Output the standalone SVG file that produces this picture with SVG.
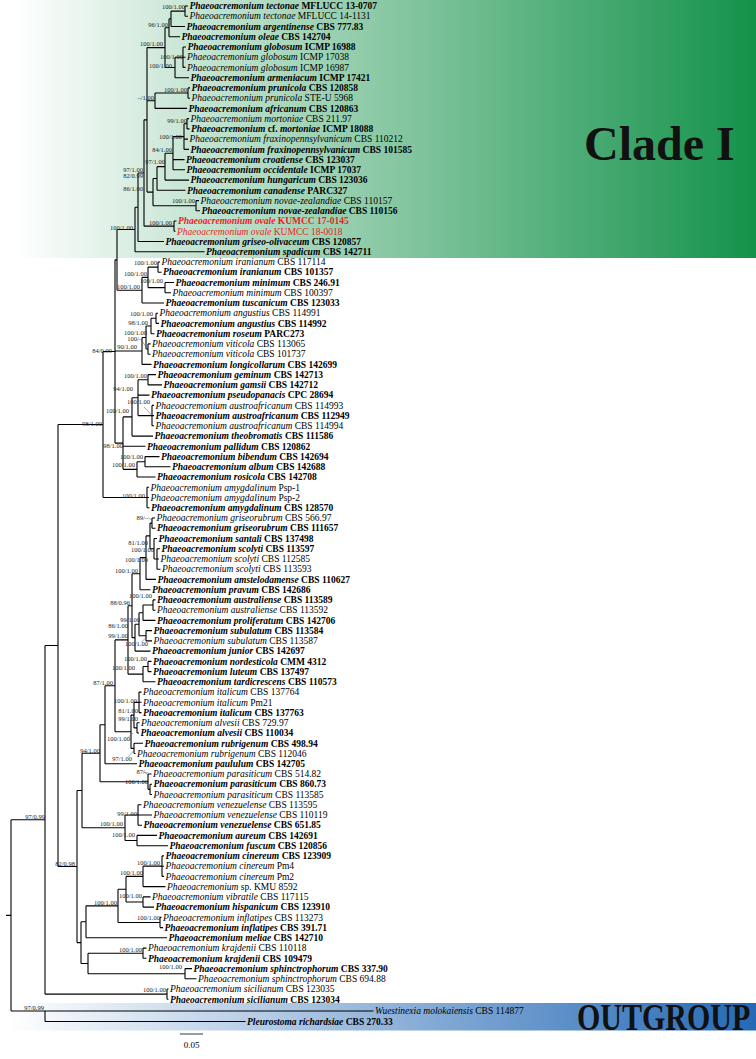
<svg xmlns="http://www.w3.org/2000/svg" width="756" height="1059" viewBox="0 0 756 1059">
<defs>
<linearGradient id="gG" x1="0" x2="1" y1="0" y2="0"><stop offset="0" stop-color="#ffffff"/><stop offset="1" stop-color="#14924a"/></linearGradient>
<linearGradient id="gB" x1="0" x2="1" y1="0" y2="0"><stop offset="0" stop-color="#ffffff"/><stop offset="1" stop-color="#2569b5"/></linearGradient>
<style>
.t{font-family:"Liberation Serif","Times New Roman",serif;font-size:9.5px;fill:#000}
.b{font-weight:700}
.i{font-style:italic}
.r{fill:#ee1c24}
.s{font-family:"Liberation Serif","Times New Roman",serif;font-size:6.5px;fill:#222;text-anchor:end}
.br{fill:none;stroke:#000;stroke-width:1.1}
.ld{fill:none;stroke:#555;stroke-width:0.5}
.big{font-family:"Liberation Serif","Times New Roman",serif;font-weight:700;fill:#111}
</style>
</defs>
<rect x="0" y="0" width="756" height="1059" fill="#fff"/>
<g id="clade-I-band"><rect x="15" y="0" width="741" height="258" fill="url(#gG)"/><text class="big" x="584" y="160" font-size="48">Clade I</text></g>
<g id="outgroup-band"><rect x="8" y="1003" width="748" height="27.5" fill="url(#gB)"/><text class="big" transform="translate(577 1029.5) scale(1 1.25)" x="0" y="0" font-size="30">OUTGROUP</text></g>
<g id="connectors" class="br">
<path d="M185 6V16.2M185 6H188M185 16.2H188"/>
<path d="M171 11.1V26.5M171 11.1H185M171 26.5H185"/>
<path d="M169 18.8V36.7M169 18.8H171M169 36.7H180"/>
<path d="M183 47V67.4M183 47H186M183 57.2H185.5M183 67.4H185.5"/>
<path d="M175 57.2V77.7M175 57.2H183M175 77.7H189"/>
<path d="M165 27.75V67.45M165 27.75H169M165 67.45H175"/>
<path d="M188 87.9V98.2M188 87.9H190M188 98.2H190"/>
<path d="M155 93.05V108.4M155 93.05H188M155 108.4H187"/>
<path d="M187 118.6V128.9M187 118.6H189M187 128.9H189.5"/>
<path d="M184 123.75V149.4M184 123.75H187M184 139.1H188M184 149.4H189"/>
<path d="M173 136.6V169.8M173 136.6H184M173 159.6H184.5M173 169.8H185"/>
<path d="M165 153.2V180.1M165 153.2H173M165 180.1H189"/>
<path d="M157 166.65V190.3M157 166.65H165M157 190.3H185.5"/>
<path d="M196 200.6V210.8M196 200.6H199M196 210.8H200"/>
<path d="M153 178.5V205.7M153 178.5H157M153 205.7H196"/>
<path d="M147 47.6V192.1M147 47.6H165M147 100.7H155M147 192.1H153"/>
<path d="M174 221V231.3M174 221H176.5M174 231.3H175.5"/>
<path d="M144 119.85V226.15M144 119.85H147M144 226.15H174"/>
<path d="M138 173V241.5M138 173H144M138 241.5H164"/>
<path d="M135 207.25V251.8M135 207.25H138M135 251.8H204.5"/>
<path d="M158 262V272.2M158 262H160M158 272.2H161.5"/>
<path d="M165 282.5V292.7M165 282.5H174M165 292.7H171"/>
<path d="M148 267.1V287.6M148 267.1H158M148 287.6H165"/>
<path d="M142 277.35V303M142 277.35H148M142 303H164"/>
<path d="M117 229.5V290.2M117 229.5H135M117 290.2H142"/>
<path d="M156 313.2V323.4M156 313.2H158M156 323.4H159"/>
<path d="M151 318.3V333.7M151 318.3H156M151 333.7H154.5"/>
<path d="M148 343.9V354.2M148 343.9H150.5M148 354.2H150.5"/>
<path d="M146 326V349.05M146 326H151M146 349.05H148"/>
<path d="M142 337.5V364.4M142 337.5H146M142 364.4H151.5"/>
<path d="M148 374.6V384.9M148 374.6H156M148 384.9H162"/>
<path d="M152 405.4V425.8M152 405.4H154M152 415.6H154M152 425.8H154"/>
<path d="M138 379.75V415.6M138 379.75H148M138 395.1H149.5M138 415.6H152"/>
<path d="M132 397.7V436.1M132 397.7H138M132 436.1H153"/>
<path d="M145 456.6V466.8M145 456.6H159.5M145 466.8H170.5"/>
<path d="M137 461.7V477M137 461.7H145M137 477H155.5"/>
<path d="M123 416.9V469.35M123 416.9H132M123 446.3H145.5M123 469.35H137"/>
<path d="M115 259.85V443.1M115 259.85H117M115 350.95H142M115 443.1H123"/>
<path d="M147 487.3V507.8M147 487.3H149M147 497.5H149M147 507.8H149.5"/>
<path d="M103 351.5V497.55M103 351.5H115M103 497.55H147"/>
<path d="M152 518V528.2M152 518H155M152 528.2H155.5"/>
<path d="M157 548.7V569.2M157 548.7H160M157 559H159M157 569.2H160.5"/>
<path d="M154 538.5V558.95M154 538.5H157M154 558.95H157"/>
<path d="M150 523.1V548.7M150 523.1H152M150 548.7H154"/>
<path d="M146 535.9V579.4M146 535.9H150M146 579.4H156"/>
<path d="M140 557.65V589.7M140 557.65H146M140 589.7H150.5"/>
<path d="M153 599.9V610.2M153 599.9H155.5M153 610.2H155.5"/>
<path d="M143 605.05V620.4M143 605.05H153M143 620.4H155.5"/>
<path d="M146 630.6V640.9M146 630.6H152M146 640.9H152"/>
<path d="M139 612.7V635.75M139 612.7H143M139 635.75H146"/>
<path d="M135 624.2V651.1M135 624.2H139M135 651.1H150.5"/>
<path d="M132 573.7V637.65M132 573.7H140M132 637.65H135"/>
<path d="M148 661.4V671.6M148 661.4H151.5M148 671.6H151.5"/>
<path d="M143 666.5V681.8M143 666.5H148M143 681.8H155.5"/>
<path d="M128 605.7V674.15M128 605.7H132M128 674.15H143"/>
<path d="M139 692.1V712.6M139 692.1H141.5M139 702.3H141.5M139 712.6H141.5"/>
<path d="M137 722.8V733M137 722.8H139.5M137 733H139"/>
<path d="M134 702.35V727.9M134 702.35H139M134 727.9H137"/>
<path d="M134 743.3V753.5M134 743.3H143M134 753.5H135.5"/>
<path d="M131 715.1V748.4M131 715.1H134M131 748.4H134"/>
<path d="M115 639.9V731.75M115 639.9H128M115 731.75H131"/>
<path d="M105 685.8V763.8M105 685.8H115M105 763.8H137"/>
<path d="M150 784.2V794.5M150 784.2H152M150 794.5H152"/>
<path d="M148 774V789.35M148 774H151.5M148 789.35H150"/>
<path d="M100 724.8V781.7M100 724.8H105M100 781.7H148"/>
<path d="M138 804.7V825.2M138 804.7H141.5M138 815H152M138 825.2H142"/>
<path d="M137 835.4V845.7M137 835.4H157M137 845.7H168"/>
<path d="M125 814.95V840.55M125 814.95H138M125 840.55H137"/>
<path d="M82 753.25V827.75M82 753.25H100M82 827.75H125"/>
<path d="M162 855.9V876.4M162 855.9H164M162 866.2H164M162 876.4H164"/>
<path d="M143 866.15V886.6M143 866.15H162M143 886.6H165.5"/>
<path d="M143 896.9V907.1M143 896.9H150.5M143 907.1H154"/>
<path d="M126 876.4V902M126 876.4H143M126 902H143"/>
<path d="M160 917.4V927.6M160 917.4H161.5M160 927.6H163"/>
<path d="M118 889.2V922.5M118 889.2H126M118 922.5H160"/>
<path d="M86 905.85V937.8M86 905.85H118M86 937.8H167"/>
<path d="M143 948.1V958.3M143 948.1H146.5M143 958.3H146.5"/>
<path d="M185 968.6V978.8M185 968.6H192M185 978.8H196.5"/>
<path d="M88 953.2V973.7M88 953.2H143M88 973.7H185"/>
<path d="M81 921.8V963.45M81 921.8H86M81 963.45H88"/>
<path d="M77 790.5V942.6M77 790.5H82M77 942.6H81"/>
<path d="M58 424.5V866.55M58 424.5H103M58 866.55H77"/>
<path d="M167 989V999.3M167 989H168.5M167 999.3H168.5"/>
<path d="M45 645.5V994.15M45 645.5H58M45 994.15H167"/>
<path d="M45 1011V1021.5M45 1021.5H245.5"/>
<path d="M11 819.8V1011M11 819.8H45M11 1011H373.5M6 915.4H11"/>
</g>
<g id="leaders" class="ld">
<path d="M141.7 340L146.7 348.5"/>
<path d="M144 407L151.5 415"/>
<path d="M148.3 517.7L152.5 520.7"/>
<path d="M141.7 642L147 636.5"/>
<path d="M128.3 737.3L133 733"/>
<path d="M128.3 756.7L133.5 751"/>
<path d="M143.3 771.7L148 774.5"/>
</g>
<g id="supports">
<text class="s" x="185" y="9.2">100/1.00</text>
<text class="s" x="168" y="27.2">96/1.00</text>
<text class="s" x="163" y="46.2">100/1.00</text>
<text class="s" x="183" y="59.2">100/1.00</text>
<text class="s" x="172" y="68.2">100/1.00</text>
<text class="s" x="187" y="92.2">100/1.00</text>
<text class="s" x="154" y="100.2">–/1.00</text>
<text class="s" x="187" y="123.2">99/1.00</text>
<text class="s" x="182" y="139.2">100/1.00</text>
<text class="s" x="172" y="152.2">84/1.00</text>
<text class="s" x="165" y="164.2">97/1.00</text>
<text class="s" x="143" y="172.2">97/1.00</text>
<text class="s" x="143" y="178.2">82/0.99</text>
<text class="s" x="143" y="191.2">86/1.00</text>
<text class="s" x="195" y="203.2">100/1.00</text>
<text class="s" x="172" y="225.2">100/1.00</text>
<text class="s" x="133" y="230.2">100/1.00</text>
<text class="s" x="157" y="265.2">100/1.00</text>
<text class="s" x="147" y="276.2">100/1.00</text>
<text class="s" x="163" y="283.2">100/1.00</text>
<text class="s" x="140" y="289.2">100/1.00</text>
<text class="s" x="153" y="316.2">100/1.00</text>
<text class="s" x="148" y="325.2">98/1.00</text>
<text class="s" x="147" y="335.2">100/1.00</text>
<text class="s" x="142" y="341.2">100/–</text>
<text class="s" x="137" y="349.2">90/1.00</text>
<text class="s" x="112" y="353.2">84/0.99</text>
<text class="s" x="147" y="378.2">100/1.00</text>
<text class="s" x="133" y="391.2">94/1.00</text>
<text class="s" x="150" y="404.2">100/1.00</text>
<text class="s" x="129" y="413.2">100/1.00</text>
<text class="s" x="102" y="426.2">98/1.00</text>
<text class="s" x="123" y="448.2">98/1.00</text>
<text class="s" x="143" y="459.2">100/1.00</text>
<text class="s" x="135" y="467.2">100/1.00</text>
<text class="s" x="145" y="498.2">100/1.00</text>
<text class="s" x="148" y="520.2">89/–</text>
<text class="s" x="148" y="545.2">81/1.00</text>
<text class="s" x="154" y="552.2">100/1.00</text>
<text class="s" x="148" y="562.2">100/1.00</text>
<text class="s" x="138" y="573.2">100/1.00</text>
<text class="s" x="152" y="598.2">100/1.00</text>
<text class="s" x="130" y="605.2">88/0.96</text>
<text class="s" x="140" y="622.2">99/1.00</text>
<text class="s" x="128" y="628.2">86/1.00</text>
<text class="s" x="128" y="638.2">99/1.00</text>
<text class="s" x="148" y="646.2">100/1.00</text>
<text class="s" x="147" y="661.2">100/1.00</text>
<text class="s" x="135" y="670.2">100/1.00</text>
<text class="s" x="113" y="685.2">87/1.00</text>
<text class="s" x="137" y="703.2">100/1.00</text>
<text class="s" x="138" y="713.2">81/1.00</text>
<text class="s" x="138" y="721.2">99/1.00</text>
<text class="s" x="130" y="741.2">100/1.00</text>
<text class="s" x="100" y="753.2">94/1.00</text>
<text class="s" x="132" y="761.2">97/1.00</text>
<text class="s" x="148" y="774.2">87/–</text>
<text class="s" x="148" y="784.2">100/1.00</text>
<text class="s" x="137" y="816.2">99/1.00</text>
<text class="s" x="45" y="819.2">97/0.99</text>
<text class="s" x="123" y="826.2">100/1.00</text>
<text class="s" x="135" y="837.2">100/1.00</text>
<text class="s" x="160" y="865.2">100/1.00</text>
<text class="s" x="75" y="866.2">82/0.98</text>
<text class="s" x="143" y="875.2">100/1.00</text>
<text class="s" x="142" y="898.2">100/1.00</text>
<text class="s" x="117" y="905.2">100/1.00</text>
<text class="s" x="160" y="920.2">100/1.00</text>
<text class="s" x="142" y="952.2">100/1.00</text>
<text class="s" x="182" y="969.2">100/1.00</text>
<text class="s" x="166" y="992.2">100/1.00</text>
<text class="s" x="44" y="1009.5">97/0.99</text>
</g>
<g id="tips">
<g id="t00"><text class="t b" x="189.5" y="9.2"><tspan class="i">Phaeoacremonium tectonae</tspan> MFLUCC 13-0707</text></g>
<g id="t01"><text class="t" x="189.5" y="19.4"><tspan class="i">Phaeoacremonium tectonae</tspan> MFLUCC 14-1131</text></g>
<g id="t02"><text class="t b" x="186.5" y="29.7"><tspan class="i">Phaeoacremonium argentinense</tspan> CBS 777.83</text></g>
<g id="t03"><text class="t b" x="181.5" y="39.9"><tspan class="i">Phaeoacremonium oleae</tspan> CBS 142704</text></g>
<g id="t04"><text class="t b" x="187.5" y="50.2"><tspan class="i">Phaeoacremonium globosum</tspan> ICMP 16988</text></g>
<g id="t05"><text class="t" x="187" y="60.4"><tspan class="i">Phaeoacremonium globosum</tspan> ICMP 17038</text></g>
<g id="t06"><text class="t" x="187" y="70.6"><tspan class="i">Phaeoacremonium globosum</tspan> ICMP 16987</text></g>
<g id="t07"><text class="t b" x="190.5" y="80.9"><tspan class="i">Phaeoacremonium armeniacum</tspan> ICMP 17421</text></g>
<g id="t08"><text class="t b" x="191.5" y="91.1"><tspan class="i">Phaeoacremonium prunicola</tspan> CBS 120858</text></g>
<g id="t09"><text class="t" x="191.5" y="101.4"><tspan class="i">Phaeoacremonium prunicola</tspan> STE-U 5968</text></g>
<g id="t10"><text class="t b" x="188.5" y="111.6"><tspan class="i">Phaeoacremonium africanum</tspan> CBS 120863</text></g>
<g id="t11"><text class="t" x="190.5" y="121.8"><tspan class="i">Phaeoacremonium mortoniae</tspan> CBS 211.97</text></g>
<g id="t12"><text class="t b" x="191" y="132.1"><tspan class="i">Phaeoacremonium</tspan> cf. <tspan class="i">mortoniae</tspan> ICMP 18088</text></g>
<g id="t13"><text class="t" x="189.5" y="142.3"><tspan class="i">Phaeoacremonium fraxinopennsylvanicum</tspan> CBS 110212</text></g>
<g id="t14"><text class="t b" x="190.5" y="152.6"><tspan class="i">Phaeoacremonium fraxinopennsylvanicum</tspan> CBS 101585</text></g>
<g id="t15"><text class="t b" x="186" y="162.8"><tspan class="i">Phaeoacremonium croatiense</tspan> CBS 123037</text></g>
<g id="t16"><text class="t b" x="186.5" y="173"><tspan class="i">Phaeoacremonium occidentale</tspan> ICMP 17037</text></g>
<g id="t17"><text class="t b" x="190.5" y="183.3"><tspan class="i">Phaeoacremonium hungaricum</tspan> CBS 123036</text></g>
<g id="t18"><text class="t b" x="187" y="193.5"><tspan class="i">Phaeoacremonium canadense</tspan> PARC327</text></g>
<g id="t19"><text class="t" x="200.5" y="203.8"><tspan class="i">Phaeoacremonium novae-zealandiae</tspan> CBS 110157</text></g>
<g id="t20"><text class="t b" x="201.5" y="214"><tspan class="i">Phaeoacremonium novae-zealandiae</tspan> CBS 110156</text></g>
<g id="t21"><text class="t b r" x="178" y="224.2"><tspan class="i">Phaeoacremonium ovale</tspan> KUMCC 17-0145</text></g>
<g id="t22"><text class="t r" x="177" y="234.5"><tspan class="i">Phaeoacremonium ovale</tspan> KUMCC 18-0018</text></g>
<g id="t23"><text class="t b" x="165.5" y="244.7"><tspan class="i">Phaeoacremonium griseo-olivaceum</tspan> CBS 120857</text></g>
<g id="t24"><text class="t b" x="206" y="255"><tspan class="i">Phaeoacremonium spadicum</tspan> CBS 142711</text></g>
<g id="t25"><text class="t" x="161.5" y="265.2"><tspan class="i">Phaeoacremonium iranianum</tspan> CBS 117114</text></g>
<g id="t26"><text class="t b" x="163" y="275.4"><tspan class="i">Phaeoacremonium iranianum</tspan> CBS 101357</text></g>
<g id="t27"><text class="t b" x="175.5" y="285.7"><tspan class="i">Phaeoacremonium minimum</tspan> CBS 246.91</text></g>
<g id="t28"><text class="t" x="172.5" y="295.9"><tspan class="i">Phaeoacremonium minimum</tspan> CBS 100397</text></g>
<g id="t29"><text class="t b" x="165.5" y="306.2"><tspan class="i">Phaeoacremonium tuscanicum</tspan> CBS 123033</text></g>
<g id="t30"><text class="t" x="159.5" y="316.4"><tspan class="i">Phaeoacremonium angustius</tspan> CBS 114991</text></g>
<g id="t31"><text class="t b" x="160.5" y="326.6"><tspan class="i">Phaeoacremonium angustius</tspan> CBS 114992</text></g>
<g id="t32"><text class="t b" x="156" y="336.9"><tspan class="i">Phaeoacremonium roseum</tspan> PARC273</text></g>
<g id="t33"><text class="t" x="152" y="347.1"><tspan class="i">Phaeoacremonium viticola</tspan> CBS 113065</text></g>
<g id="t34"><text class="t" x="152" y="357.4"><tspan class="i">Phaeoacremonium viticola</tspan> CBS 101737</text></g>
<g id="t35"><text class="t b" x="153" y="367.6"><tspan class="i">Phaeoacremonium longicollarum</tspan> CBS 142699</text></g>
<g id="t36"><text class="t b" x="157.5" y="377.8"><tspan class="i">Phaeoacremonium geminum</tspan> CBS 142713</text></g>
<g id="t37"><text class="t b" x="163.5" y="388.1"><tspan class="i">Phaeoacremonium gamsii</tspan> CBS 142712</text></g>
<g id="t38"><text class="t b" x="151" y="398.3"><tspan class="i">Phaeoacremonium pseudopanacis</tspan> CPC 28694</text></g>
<g id="t39"><text class="t" x="155.5" y="408.6"><tspan class="i">Phaeoacremonium austroafricanum</tspan> CBS 114993</text></g>
<g id="t40"><text class="t b" x="155.5" y="418.8"><tspan class="i">Phaeoacremonium austroafricanum</tspan> CBS 112949</text></g>
<g id="t41"><text class="t" x="155.5" y="429"><tspan class="i">Phaeoacremonium austroafricanum</tspan> CBS 114994</text></g>
<g id="t42"><text class="t b" x="154.5" y="439.3"><tspan class="i">Phaeoacremonium theobromatis</tspan> CBS 111586</text></g>
<g id="t43"><text class="t b" x="147" y="449.5"><tspan class="i">Phaeoacremonium pallidum</tspan> CBS 120862</text></g>
<g id="t44"><text class="t b" x="161" y="459.8"><tspan class="i">Phaeoacremonium bibendum</tspan> CBS 142694</text></g>
<g id="t45"><text class="t b" x="172" y="470"><tspan class="i">Phaeoacremonium album</tspan> CBS 142688</text></g>
<g id="t46"><text class="t b" x="157" y="480.2"><tspan class="i">Phaeoacremonium rosicola</tspan> CBS 142708</text></g>
<g id="t47"><text class="t" x="150.5" y="490.5"><tspan class="i">Phaeoacremonium amygdalinum</tspan> Psp-1</text></g>
<g id="t48"><text class="t" x="150.5" y="500.7"><tspan class="i">Phaeoacremonium amygdalinum</tspan> Psp-2</text></g>
<g id="t49"><text class="t b" x="151" y="511"><tspan class="i">Phaeoacremonium amygdalinum</tspan> CBS 128570</text></g>
<g id="t50"><text class="t" x="156.5" y="521.2"><tspan class="i">Phaeoacremonium griseorubrum</tspan> CBS 566.97</text></g>
<g id="t51"><text class="t b" x="157" y="531.4"><tspan class="i">Phaeoacremonium griseorubrum</tspan> CBS 111657</text></g>
<g id="t52"><text class="t b" x="158.5" y="541.7"><tspan class="i">Phaeoacremonium santali</tspan> CBS 137498</text></g>
<g id="t53"><text class="t b" x="161.5" y="551.9"><tspan class="i">Phaeoacremonium scolyti</tspan> CBS 113597</text></g>
<g id="t54"><text class="t" x="160.5" y="562.2"><tspan class="i">Phaeoacremonium scolyti</tspan> CBS 112585</text></g>
<g id="t55"><text class="t" x="162" y="572.4"><tspan class="i">Phaeoacremonium scolyti</tspan> CBS 113593</text></g>
<g id="t56"><text class="t b" x="157.5" y="582.6"><tspan class="i">Phaeoacremonium amstelodamense</tspan> CBS 110627</text></g>
<g id="t57"><text class="t b" x="152" y="592.9"><tspan class="i">Phaeoacremonium pravum</tspan> CBS 142686</text></g>
<g id="t58"><text class="t b" x="157" y="603.1"><tspan class="i">Phaeoacremonium australiense</tspan> CBS 113589</text></g>
<g id="t59"><text class="t" x="157" y="613.4"><tspan class="i">Phaeoacremonium australiense</tspan> CBS 113592</text></g>
<g id="t60"><text class="t b" x="157" y="623.6"><tspan class="i">Phaeoacremonium proliferatum</tspan> CBS 142706</text></g>
<g id="t61"><text class="t b" x="153.5" y="633.8"><tspan class="i">Phaeoacremonium subulatum</tspan> CBS 113584</text></g>
<g id="t62"><text class="t" x="153.5" y="644.1"><tspan class="i">Phaeoacremonium subulatum</tspan> CBS 113587</text></g>
<g id="t63"><text class="t b" x="152" y="654.3"><tspan class="i">Phaeoacremonium junior</tspan> CBS 142697</text></g>
<g id="t64"><text class="t b" x="153" y="664.6"><tspan class="i">Phaeoacremonium nordesticola</tspan> CMM 4312</text></g>
<g id="t65"><text class="t b" x="153" y="674.8"><tspan class="i">Phaeoacremonium luteum</tspan> CBS 137497</text></g>
<g id="t66"><text class="t b" x="157" y="685"><tspan class="i">Phaeoacremonium tardicrescens</tspan> CBS 110573</text></g>
<g id="t67"><text class="t" x="143" y="695.3"><tspan class="i">Phaeoacremonium italicum</tspan> CBS 137764</text></g>
<g id="t68"><text class="t" x="143" y="705.5"><tspan class="i">Phaeoacremonium italicum</tspan> Pm21</text></g>
<g id="t69"><text class="t b" x="143" y="715.8"><tspan class="i">Phaeoacremonium italicum</tspan> CBS 137763</text></g>
<g id="t70"><text class="t" x="141" y="726"><tspan class="i">Phaeoacremonium alvesii</tspan> CBS 729.97</text></g>
<g id="t71"><text class="t b" x="140.5" y="736.2"><tspan class="i">Phaeoacremonium alvesii</tspan> CBS 110034</text></g>
<g id="t72"><text class="t b" x="144.5" y="746.5"><tspan class="i">Phaeoacremonium rubrigenum</tspan> CBS 498.94</text></g>
<g id="t73"><text class="t" x="137" y="756.7"><tspan class="i">Phaeoacremonium rubrigenum</tspan> CBS 112046</text></g>
<g id="t74"><text class="t b" x="138.5" y="767"><tspan class="i">Phaeoacremonium paululum</tspan> CBS 142705</text></g>
<g id="t75"><text class="t" x="153" y="777.2"><tspan class="i">Phaeoacremonium parasiticum</tspan> CBS 514.82</text></g>
<g id="t76"><text class="t b" x="153.5" y="787.4"><tspan class="i">Phaeoacremonium parasiticum</tspan> CBS 860.73</text></g>
<g id="t77"><text class="t" x="153.5" y="797.7"><tspan class="i">Phaeoacremonium parasiticum</tspan> CBS 113585</text></g>
<g id="t78"><text class="t" x="143" y="807.9"><tspan class="i">Phaeoacremonium venezuelense</tspan> CBS 113595</text></g>
<g id="t79"><text class="t" x="153.5" y="818.2"><tspan class="i">Phaeoacremonium venezuelense</tspan> CBS 110119</text></g>
<g id="t80"><text class="t b" x="143.5" y="828.4"><tspan class="i">Phaeoacremonium venezuelense</tspan> CBS 651.85</text></g>
<g id="t81"><text class="t b" x="158.5" y="838.6"><tspan class="i">Phaeoacremonium aureum</tspan> CBS 142691</text></g>
<g id="t82"><text class="t b" x="169.5" y="848.9"><tspan class="i">Phaeoacremonium fuscum</tspan> CBS 120856</text></g>
<g id="t83"><text class="t b" x="165.5" y="859.1"><tspan class="i">Phaeoacremonium cinereum</tspan> CBS 123909</text></g>
<g id="t84"><text class="t" x="165.5" y="869.4"><tspan class="i">Phaeoacremonium cinereum</tspan> Pm4</text></g>
<g id="t85"><text class="t" x="165.5" y="879.6"><tspan class="i">Phaeoacremonium cinereum</tspan> Pm2</text></g>
<g id="t86"><text class="t" x="167" y="889.8"><tspan class="i">Phaeoacremonium</tspan> sp. KMU 8592</text></g>
<g id="t87"><text class="t" x="152" y="900.1"><tspan class="i">Phaeoacremonium vibratile</tspan> CBS 117115</text></g>
<g id="t88"><text class="t b" x="155.5" y="910.3"><tspan class="i">Phaeoacremonium hispanicum</tspan> CBS 123910</text></g>
<g id="t89"><text class="t" x="163" y="920.6"><tspan class="i">Phaeoacremonium inflatipes</tspan> CBS 113273</text></g>
<g id="t90"><text class="t b" x="164.5" y="930.8"><tspan class="i">Phaeoacremonium inflatipes</tspan> CBS 391.71</text></g>
<g id="t91"><text class="t b" x="168.5" y="941"><tspan class="i">Phaeoacremonium meliae</tspan> CBS 142710</text></g>
<g id="t92"><text class="t" x="148" y="951.3"><tspan class="i">Phaeoacremonium krajdenii</tspan> CBS 110118</text></g>
<g id="t93"><text class="t b" x="148" y="961.5"><tspan class="i">Phaeoacremonium krajdenii</tspan> CBS 109479</text></g>
<g id="t94"><text class="t b" x="193.5" y="971.8"><tspan class="i">Phaeoacremonium sphinctrophorum</tspan> CBS 337.90</text></g>
<g id="t95"><text class="t" x="198" y="982"><tspan class="i">Phaeoacremonium sphinctrophorum</tspan> CBS 694.88</text></g>
<g id="t96"><text class="t" x="170" y="992.2"><tspan class="i">Phaeoacremonium sicilianum</tspan> CBS 123035</text></g>
<g id="t97"><text class="t b" x="170" y="1002.5"><tspan class="i">Phaeoacremonium sicilianum</tspan> CBS 123034</text></g>
<g id="t98"><text class="t" x="375" y="1014.2"><tspan class="i">Wuestinexia molokaiensis</tspan> CBS 114877</text></g>
<g id="t99"><text class="t b" x="247" y="1024.7"><tspan class="i">Pleurostoma richardsiae</tspan> CBS 270.33</text></g>
</g>
<g id="scale-bar"><path d="M180 1034H203" stroke="#666" stroke-width="1.3"/><text x="191.5" y="1048" font-family="Liberation Serif, serif" font-size="9" text-anchor="middle">0.05</text></g>
</svg>
